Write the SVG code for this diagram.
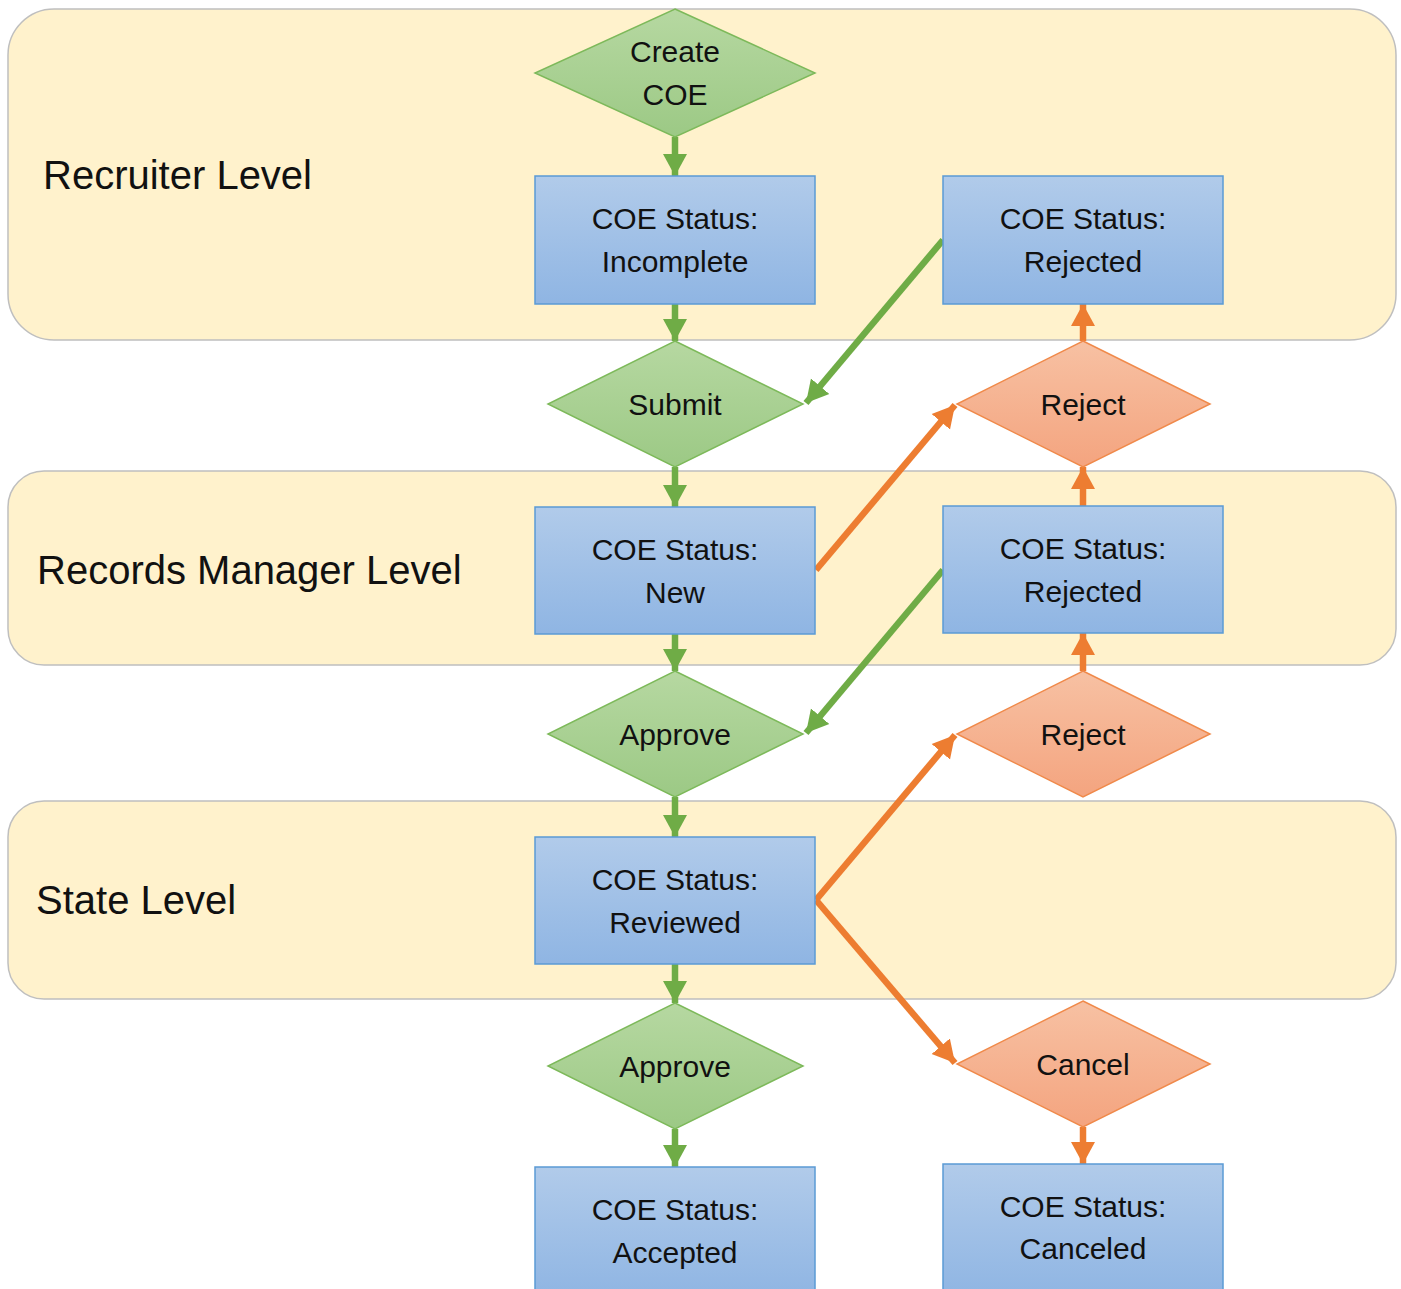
<svg xmlns="http://www.w3.org/2000/svg" width="1401" height="1289" viewBox="0 0 1401 1289">
<defs>
<linearGradient id="gb" x1="0" y1="0" x2="0" y2="1"><stop offset="0" stop-color="#B1CBEA"/><stop offset="1" stop-color="#8FB5E3"/></linearGradient>
<linearGradient id="gg" x1="0" y1="0" x2="0" y2="1"><stop offset="0" stop-color="#B6D8A1"/><stop offset="1" stop-color="#9CC985"/></linearGradient>
<linearGradient id="go" x1="0" y1="0" x2="0" y2="1"><stop offset="0" stop-color="#F7C1A3"/><stop offset="1" stop-color="#F4A47F"/></linearGradient>
<marker id="ag" markerUnits="userSpaceOnUse" markerWidth="26" markerHeight="26" viewBox="0 0 26 26" refX="22" refY="13" orient="auto"><path d="M0,1 L22,13 L0,25 Z" fill="#6FAC46"/></marker>
<marker id="ao" markerUnits="userSpaceOnUse" markerWidth="26" markerHeight="26" viewBox="0 0 26 26" refX="22" refY="13" orient="auto"><path d="M0,1 L22,13 L0,25 Z" fill="#ED7D31"/></marker>
<style>
.lane{fill:#FFF2CC;stroke:#BFBFBF;stroke-width:1.5}
.box{fill:url(#gb);stroke:#5B9BD5;stroke-width:1.5}
.dg{fill:url(#gg);stroke:#7DB95A;stroke-width:1.5}
.do{fill:url(#go);stroke:#F08A4B;stroke-width:1.5}
.t{font-family:"Liberation Sans",Arial,sans-serif;font-size:30px;fill:#111;text-anchor:middle}
.lt{font-family:"Liberation Sans",Arial,sans-serif;font-size:40px;fill:#111}
.cg{stroke:#6FAC46;stroke-width:6.5;fill:none;marker-end:url(#ag)}
.co{stroke:#ED7D31;stroke-width:6.5;fill:none;marker-end:url(#ao)}
</style>
</defs>
<rect width="1401" height="1289" fill="#FFFFFF"/>
<g id="lanes">
<g id="lane-recruiter"><rect class="lane" x="8" y="9" width="1388" height="331" rx="46"/><text class="lt" x="43" y="189">Recruiter Level</text></g>
<g id="lane-records"><rect class="lane" x="8" y="471" width="1388" height="194" rx="36"/><text class="lt" x="37" y="584">Records Manager Level</text></g>
<g id="lane-state"><rect class="lane" x="8" y="801" width="1388" height="198" rx="36"/><text class="lt" x="36" y="914">State Level</text></g>
</g>
<g id="connectors">
<line class="cg" x1="675" y1="137" x2="675" y2="176"/>
<line class="cg" x1="675" y1="304" x2="675" y2="341"/>
<line class="cg" x1="675" y1="467" x2="675" y2="507"/>
<line class="cg" x1="675" y1="634" x2="675" y2="671"/>
<line class="cg" x1="675" y1="797" x2="675" y2="837"/>
<line class="cg" x1="675" y1="964" x2="675" y2="1003"/>
<line class="cg" x1="675" y1="1129" x2="675" y2="1167"/>
<line class="cg" x1="943" y1="240" x2="806" y2="403"/>
<line class="cg" x1="943" y1="570" x2="806" y2="733"/>
<line class="co" x1="816" y1="570" x2="955" y2="405"/>
<line class="co" x1="816" y1="900" x2="955" y2="735"/>
<line class="co" x1="816" y1="900" x2="955" y2="1063"/>
<line class="co" x1="1083" y1="341" x2="1083" y2="304"/>
<line class="co" x1="1083" y1="506" x2="1083" y2="467"/>
<line class="co" x1="1083" y1="671" x2="1083" y2="633"/>
<line class="co" x1="1083" y1="1127" x2="1083" y2="1164"/>
</g>
<g id="create-coe"><polygon class="dg" points="675,9 815,73 675,137 535,73"/><text class="t" x="675" y="62">Create</text><text class="t" x="675" y="105">COE</text></g>
<g id="status-incomplete"><rect class="box" x="535" y="176" width="280" height="128"/><text class="t" x="675" y="229">COE Status:</text><text class="t" x="675" y="272">Incomplete</text></g>
<g id="status-rejected-1"><rect class="box" x="943" y="176" width="280" height="128"/><text class="t" x="1083" y="229">COE Status:</text><text class="t" x="1083" y="272">Rejected</text></g>
<g id="submit"><polygon class="dg" points="675,341 803,404 675,467 548,404"/><text class="t" x="675" y="415">Submit</text></g>
<g id="reject-1"><polygon class="do" points="1083,341 1210,404 1083,467 957,404"/><text class="t" x="1083" y="415">Reject</text></g>
<g id="status-new"><rect class="box" x="535" y="507" width="280" height="127"/><text class="t" x="675" y="560">COE Status:</text><text class="t" x="675" y="603">New</text></g>
<g id="status-rejected-2"><rect class="box" x="943" y="506" width="280" height="127"/><text class="t" x="1083" y="559">COE Status:</text><text class="t" x="1083" y="602">Rejected</text></g>
<g id="approve-1"><polygon class="dg" points="675,671 803,734 675,797 548,734"/><text class="t" x="675" y="745">Approve</text></g>
<g id="reject-2"><polygon class="do" points="1083,671 1210,734 1083,797 957,734"/><text class="t" x="1083" y="745">Reject</text></g>
<g id="status-reviewed"><rect class="box" x="535" y="837" width="280" height="127"/><text class="t" x="675" y="890">COE Status:</text><text class="t" x="675" y="933">Reviewed</text></g>
<g id="approve-2"><polygon class="dg" points="675,1003 803,1066 675,1129 548,1066"/><text class="t" x="675" y="1077">Approve</text></g>
<g id="cancel"><polygon class="do" points="1083,1001 1210,1064 1083,1127 957,1064"/><text class="t" x="1083" y="1075">Cancel</text></g>
<g id="status-accepted"><rect class="box" x="535" y="1167" width="280" height="130"/><text class="t" x="675" y="1220">COE Status:</text><text class="t" x="675" y="1263">Accepted</text></g>
<g id="status-canceled"><rect class="box" x="943" y="1164" width="280" height="133"/><text class="t" x="1083" y="1217">COE Status:</text><text class="t" x="1083" y="1259">Canceled</text></g>
</svg>
